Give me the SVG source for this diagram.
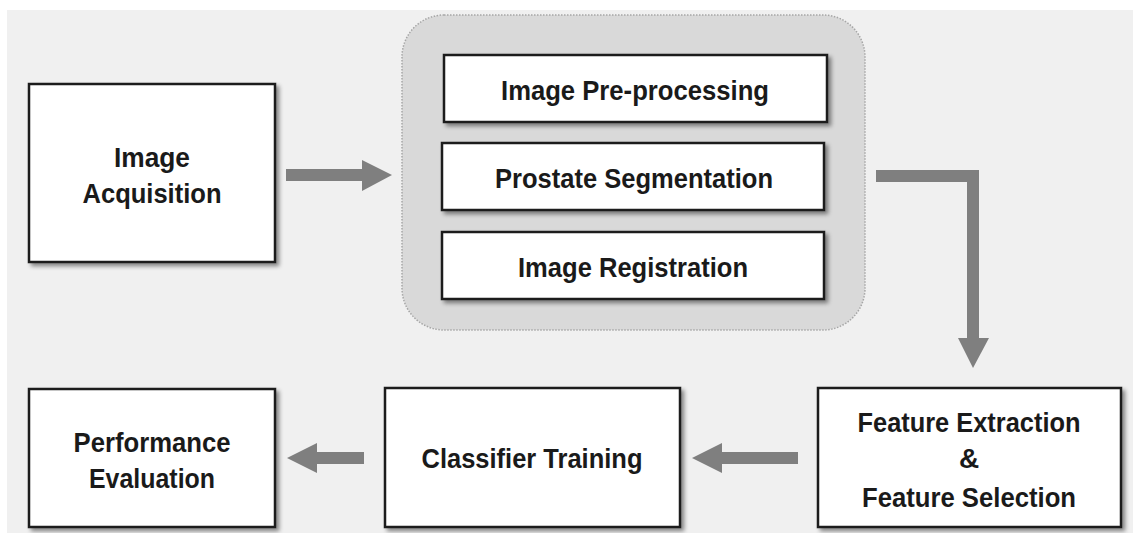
<svg xmlns="http://www.w3.org/2000/svg" width="1133" height="533" viewBox="0 0 1133 533">
  <defs>
    <filter id="shadow" x="-10%" y="-10%" width="125%" height="130%">
      <feGaussianBlur in="SourceAlpha" stdDeviation="2"/>
      <feOffset dx="3" dy="3" result="b"/>
      <feComponentTransfer><feFuncA type="linear" slope="0.45"/></feComponentTransfer>
      <feMerge><feMergeNode/><feMergeNode in="SourceGraphic"/></feMerge>
    </filter>
  </defs>
  <style>
    .box { fill: #ffffff; stroke: #1a1a1a; stroke-width: 2.5; filter: url(#shadow); }
    .group { fill: #d9d9d9; stroke: #a6a6a6; stroke-width: 1.5; stroke-dasharray: 1.5 1.5; }
    .lbl { font-family: "Liberation Sans", Arial, sans-serif; font-weight: bold; font-size: 28px; fill: #1a1a1a; text-anchor: middle; }
    .shaft { fill: none; stroke: #7f7f7f; stroke-width: 12; }
    .head { fill: #7f7f7f; }
  </style>

  <!-- page background -->
  <rect x="0" y="0" width="1133" height="533" fill="#ffffff"/>
  <rect x="7" y="10" width="1126" height="523" fill="#f0f0f0"/>

  <g id="image-acquisition">
    <rect class="box" x="29" y="84" width="246" height="178"/>
    <text class="lbl" x="152" y="167" textLength="76" lengthAdjust="spacingAndGlyphs">Image</text>
    <text class="lbl" x="152" y="203" textLength="139" lengthAdjust="spacingAndGlyphs">Acquisition</text>
  </g>

  <g id="preprocessing-stage">
    <rect class="group" x="402" y="15" width="463" height="315" rx="42" ry="42"/>
    <g id="image-preprocessing">
      <rect class="box" x="444" y="55" width="383" height="67"/>
      <text class="lbl" x="635" y="100" textLength="268" lengthAdjust="spacingAndGlyphs">Image Pre-processing</text>
    </g>
    <g id="prostate-segmentation">
      <rect class="box" x="442" y="143" width="382" height="67"/>
      <text class="lbl" x="634" y="188" textLength="278" lengthAdjust="spacingAndGlyphs">Prostate Segmentation</text>
    </g>
    <g id="image-registration">
      <rect class="box" x="442" y="232" width="382" height="67"/>
      <text class="lbl" x="633" y="277" textLength="230" lengthAdjust="spacingAndGlyphs">Image Registration</text>
    </g>
  </g>

  <g id="feature-extraction-selection">
    <rect class="box" x="818" y="388" width="303" height="139"/>
    <text class="lbl" x="969" y="432" textLength="223" lengthAdjust="spacingAndGlyphs">Feature Extraction</text>
    <text class="lbl" x="969" y="468">&amp;</text>
    <text class="lbl" x="969" y="507" textLength="214" lengthAdjust="spacingAndGlyphs">Feature Selection</text>
  </g>

  <g id="classifier-training">
    <rect class="box" x="385" y="388" width="295" height="139"/>
    <text class="lbl" x="532" y="468" textLength="221" lengthAdjust="spacingAndGlyphs">Classifier Training</text>
  </g>

  <g id="performance-evaluation">
    <rect class="box" x="29" y="389" width="246" height="138"/>
    <text class="lbl" x="152" y="452" textLength="157" lengthAdjust="spacingAndGlyphs">Performance</text>
    <text class="lbl" x="152" y="488" textLength="126" lengthAdjust="spacingAndGlyphs">Evaluation</text>
  </g>

  <g id="connectors">
    <!-- acquisition to pre-processing stage -->
    <line class="shaft" x1="286" y1="175" x2="364" y2="175"/>
    <polygon class="head" points="362,160 392,175 362,191"/>
    <!-- stage to feature extraction (elbow) -->
    <polyline class="shaft" points="876,176 973,176 973,340"/>
    <polygon class="head" points="958,338 973,368 989,338"/>
    <!-- feature extraction to classifier -->
    <line class="shaft" x1="798" y1="458" x2="720" y2="458"/>
    <polygon class="head" points="722,443 692,458 722,473"/>
    <!-- classifier to evaluation -->
    <line class="shaft" x1="364" y1="458" x2="315" y2="458"/>
    <polygon class="head" points="317,443 287,458 317,473"/>
  </g>
</svg>
